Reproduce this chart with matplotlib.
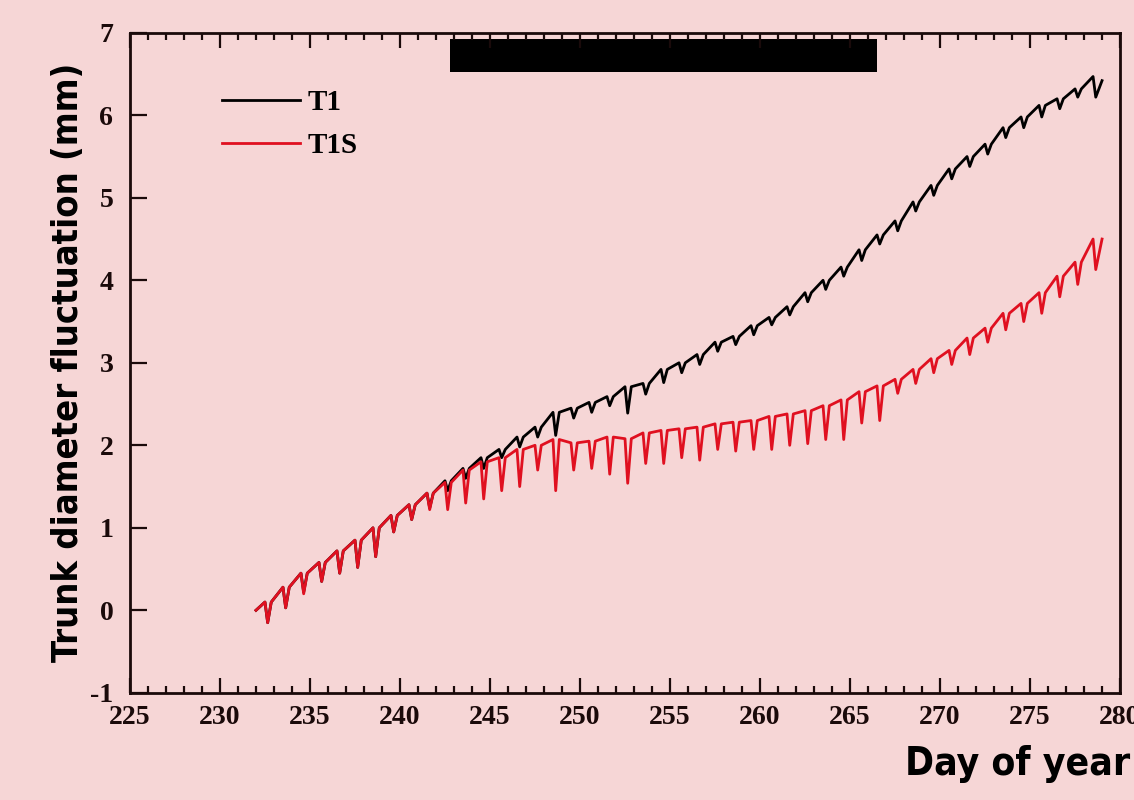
import numpy as np
import matplotlib
matplotlib.use("Agg")
import matplotlib.pyplot as plt
from matplotlib.ticker import MultipleLocator


BG = "#f6d6d6"
RED = "#e01020"

# daily readings: value just before the daily dip (hi) and at the dip (lo)
days = list(range(232, 279))

t1_hi = [0.10, 0.28, 0.45, 0.58, 0.72, 0.85, 1.00, 1.15, 1.28, 1.42,
         1.57, 1.72, 1.85, 1.95, 2.10, 2.22, 2.40, 2.45, 2.52, 2.59,
         2.71, 2.75, 2.92, 3.00, 3.10, 3.25, 3.32, 3.45, 3.55, 3.68,
         3.85, 4.00, 4.16, 4.37, 4.55, 4.72, 4.95, 5.15, 5.35, 5.50,
         5.65, 5.85, 5.98, 6.12, 6.20, 6.32, 6.47]
t1_lo = [-0.15, 0.03, 0.22, 0.35, 0.45, 0.52, 0.65, 0.95, 1.10, 1.24,
         1.45, 1.60, 1.72, 1.85, 1.98, 2.10, 2.12, 2.33, 2.40, 2.48,
         2.39, 2.62, 2.76, 2.88, 2.98, 3.14, 3.22, 3.34, 3.46, 3.58,
         3.74, 3.89, 4.05, 4.24, 4.44, 4.60, 4.84, 5.03, 5.23, 5.38,
         5.53, 5.73, 5.85, 5.98, 6.08, 6.22, 6.22]

t1s_hi = [0.10, 0.28, 0.45, 0.58, 0.72, 0.85, 1.00, 1.15, 1.28, 1.42,
          1.55, 1.70, 1.80, 1.85, 1.95, 2.00, 2.07, 2.03, 2.05, 2.10,
          2.08, 2.15, 2.18, 2.20, 2.22, 2.26, 2.28, 2.30, 2.35, 2.38,
          2.42, 2.48, 2.55, 2.65, 2.72, 2.80, 2.92, 3.05, 3.15, 3.30,
          3.42, 3.60, 3.72, 3.85, 4.05, 4.22, 4.50]
t1s_lo = [-0.15, 0.03, 0.20, 0.35, 0.45, 0.52, 0.65, 0.95, 1.10, 1.22,
          1.22, 1.30, 1.35, 1.45, 1.50, 1.70, 1.45, 1.70, 1.72, 1.65,
          1.54, 1.78, 1.78, 1.85, 1.82, 1.95, 1.93, 1.95, 1.95, 2.00,
          2.02, 2.07, 2.07, 2.27, 2.30, 2.63, 2.75, 2.88, 2.98, 3.10,
          3.25, 3.40, 3.50, 3.60, 3.80, 3.95, 4.13]

end_day = 279.0
t1_start, t1_end = 0.0, 6.42
t1s_start, t1s_end = 0.0, 4.50

# dry period bar (day range, y range)
bar_start, bar_end = 242.8, 266.5
bar_low, bar_high = 6.53, 6.92


def daily_trace(start, hi, lo, end):
    # slow rise, sharp midday shrink, quick recovery to the pre-dip level
    xs, ys = [days[0]], [start]
    for d, h, l in zip(days, hi, lo):
        xs += [d + 0.5, d + 0.65, d + 0.85]
        ys += [h, l, h]
    xs[-1] = end_day
    ys[-1] = end
    return xs, ys


x1, y1 = daily_trace(t1_start, t1_hi, t1_lo, t1_end)
x2, y2 = daily_trace(t1s_start, t1s_hi, t1s_lo, t1s_end)

fig = plt.figure(figsize=(11.34, 8.0), dpi=100, facecolor=BG)
ax = fig.add_axes([0.1146, 0.134, 0.8731, 0.825])
ax.set_facecolor(BG)

ax.plot(x1, y1, color="black", lw=2.0, label="T1")
ax.plot(x2, y2, color=RED, lw=2.0, label="T1S")

ax.fill_between([bar_start, bar_end], bar_low, bar_high, color="black", lw=0)

ax.set_xlim(225, 280)
ax.set_ylim(-1, 7)
ax.xaxis.set_major_locator(MultipleLocator(5))
ax.xaxis.set_minor_locator(MultipleLocator(1))
ax.yaxis.set_major_locator(MultipleLocator(1))

for s in ax.spines.values():
    s.set_linewidth(2.0)
    s.set_color("#1a0a0a")

ax.tick_params(axis="x", which="both", direction="in", top=True, bottom=True,
               width=1.6, colors="#1a0a0a", pad=9)
ax.tick_params(axis="x", which="major", length=11)
ax.tick_params(axis="x", which="minor", length=5)
ax.tick_params(axis="y", which="major", direction="in", left=True, right=False,
               length=12, width=1.6, colors="#1a0a0a", pad=12)

tick_font = dict(family="Liberation Serif", weight="bold", size=20)
ax.set_xticks(ax.get_xticks())
ax.set_xticklabels([f"{int(v)}" for v in ax.get_xticks()], fontdict=tick_font)
ax.set_yticks(ax.get_yticks())
ax.set_yticklabels([f"{int(v)}" for v in ax.get_yticks()], fontdict=tick_font)
ax.set_xlim(225, 280)
ax.set_ylim(-1, 7)

ax.set_ylabel("Trunk diameter fluctuation (mm)", family="DejaVu Sans",
              fontstretch="condensed", weight="bold", size=26, labelpad=4)
fig.text(0.997, 0.045, "Day of year", ha="right", va="center",
         family="DejaVu Sans", fontstretch="condensed", weight="bold", size=28)

ax.legend(loc="upper left", bbox_to_anchor=(0.066, 0.955), frameon=False,
          handlelength=2.7, handletextpad=0.25, labelspacing=0.55,
          prop=dict(family="Liberation Serif", weight="bold", size=21))

fig.savefig("out.png", dpi=100, facecolor=BG)
